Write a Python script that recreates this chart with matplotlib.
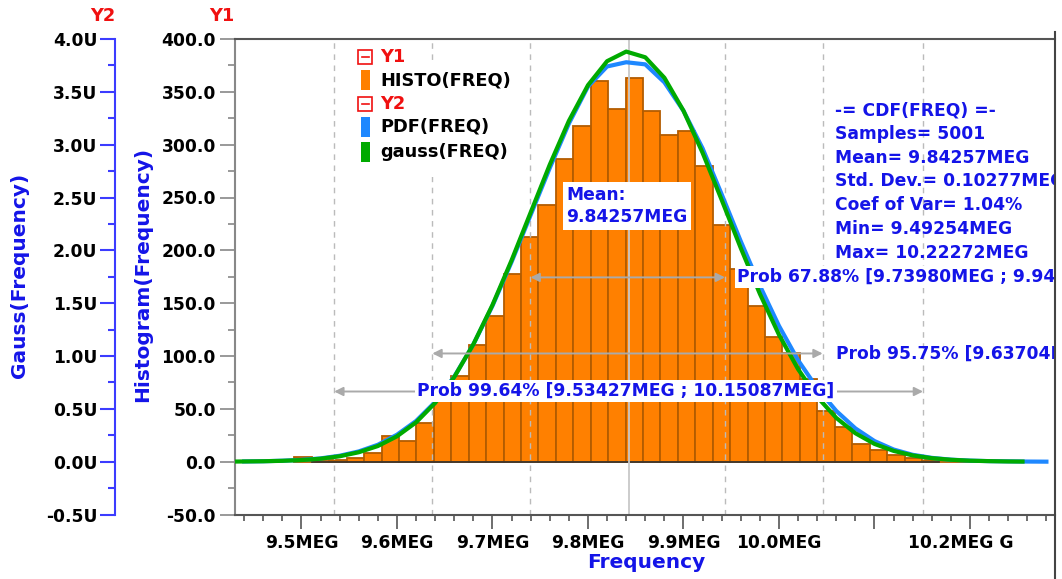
#! /usr/bin/env python3
# ----------------------------------------------------------------------------------------
# Monte Carlo frequency histogram with PDF and gauss overlay (Y1 counts, Y2 density).
# ----------------------------------------------------------------------------------------

import matplotlib
matplotlib.use("Agg")
import matplotlib.pyplot as plt
from matplotlib.patches import Rectangle
from matplotlib.lines import Line2D
from matplotlib.ticker import FuncFormatter, MultipleLocator
from matplotlib.transforms import Affine2D
import numpy as np

# ---- data -------------------------------------------------------------------------------

hist_min = 9.49254
hist_max = 10.22272
hist_counts = [
    4, 1, 2, 3, 8, 24, 20, 37, 62, 81, 110, 138, 178, 213, 243, 286, 318, 360, 334, 363,
    332, 309, 313, 280, 224, 182, 147, 118, 103, 78, 48, 33, 17, 11, 6, 3, 2, 0, 0, 1,
]

gauss_freq = [
    9.43, 9.44, 9.46, 9.48, 9.50, 9.52, 9.54, 9.56, 9.58, 9.60, 9.62, 9.64, 9.66, 9.68,
    9.70, 9.72, 9.74, 9.76, 9.78, 9.80, 9.82, 9.84, 9.86, 9.88, 9.90, 9.92, 9.94, 9.96,
    9.98, 10.00, 10.02, 10.04, 10.06, 10.08, 10.10, 10.12, 10.14, 10.16, 10.18, 10.20,
    10.22, 10.24, 10.255,
]
gauss_u = [
    0.001, 0.002, 0.004, 0.008, 0.015, 0.028, 0.051, 0.089, 0.148, 0.240, 0.372, 0.556,
    0.801, 1.111, 1.483, 1.906, 2.359, 2.811, 3.225, 3.563, 3.790, 3.881, 3.827, 3.633,
    3.321, 2.923, 2.477, 2.021, 1.588, 1.201, 0.875, 0.613, 0.414, 0.269, 0.168, 0.102,
    0.059, 0.033, 0.018, 0.009, 0.005, 0.002, 0.001,
]

pdf_freq = [
    9.44, 9.46, 9.48, 9.50, 9.52, 9.54, 9.56, 9.58, 9.60, 9.62, 9.64, 9.66, 9.68, 9.70,
    9.72, 9.74, 9.76, 9.78, 9.80, 9.82, 9.84, 9.86, 9.88, 9.90, 9.92, 9.94, 9.96, 9.98,
    10.00, 10.02, 10.04, 10.06, 10.08, 10.10, 10.12, 10.14, 10.16, 10.18, 10.20, 10.22,
    10.24, 10.26, 10.28,
]
pdf_u = [
    0.002, 0.004, 0.009, 0.017, 0.031, 0.056, 0.097, 0.160, 0.255, 0.385, 0.565, 0.805,
    1.110, 1.475, 1.890, 2.335, 2.780, 3.200, 3.550, 3.740, 3.780, 3.760, 3.590, 3.320,
    2.965, 2.530, 2.085, 1.665, 1.285, 0.960, 0.695, 0.480, 0.315, 0.195, 0.115, 0.065,
    0.036, 0.019, 0.010, 0.005, 0.003, 0.001, 0.000,
]

mean_freq = 9.84257
prob_names = ["67.88%", "95.75%", "99.64%"]
prob_lo = [9.73980, 9.63704, 9.53427]
prob_hi = [9.94346, 10.04572, 10.15087]

stats_lines = [
    "-= CDF(FREQ) =-",
    "Samples= 5001",
    "Mean= 9.84257MEG",
    "Std. Dev.= 0.10277MEG",
    "Coef of Var= 1.04%",
    "Min= 9.49254MEG",
    "Max= 10.22272MEG",
]

x_ticks = [9.5, 9.6, 9.7, 9.8, 9.9, 10.0, 10.1, 10.2]
x_tick_labels = ["9.5MEG", "9.6MEG", "9.7MEG", "9.8MEG", "9.9MEG", "10.0MEG", "", ""]
x_last_label = "10.2MEG G"

# ---- styling ----------------------------------------------------------------------------

W, H = 1062, 579
orange = "#FF8000"
orange_edge = "#B35C00"
pdf_blue = "#1E88FF"
gauss_green = "#00AA00"
text_blue = "#1414E8"
red = "#F01010"
fs = 12.3

plt.rcParams['font.family'] = ['DejaVu Sans']
plt.rcParams['font.weight'] = 'bold'

fig = plt.figure(figsize=(W / 100, H / 100), dpi=100)
px = Affine2D().scale(1 / W, -1 / H).translate(0, 1) + fig.transFigure

ax = fig.add_axes([235 / W, 1 - 514.5 / H, (1055 - 235) / W, (514.5 - 39) / H])
ax.set_xlim(9.4304, 10.289)
ax.set_ylim(-50, 400)

# histogram
edges = np.linspace(hist_min, hist_max, len(hist_counts) + 1)
ax.bar(edges[:-1], hist_counts, width=np.diff(edges), align='edge', color=orange,
       edgecolor=orange_edge, linewidth=1.3, zorder=1)
ax.plot([edges[1], edges[37]], [0, 0], color="#333333", lw=1.2, zorder=1.5)

# probability bounds and mean
for lo, hi in zip(prob_lo, prob_hi):
    for v in (lo, hi):
        ax.axvline(v, color="#BBBBBB", lw=1.0, ls=(0, (4, 4)), zorder=2)
ax.axvline(mean_freq, color="#C8C8C8", lw=1.3, zorder=2)

# Y1 axis
ax.yaxis.set_major_locator(MultipleLocator(50))
ax.yaxis.set_minor_locator(MultipleLocator(25))
ax.yaxis.set_major_formatter(FuncFormatter(lambda v, p: f"{v:.1f}"))
ax.tick_params(axis='y', which='major', length=10.8, width=1.2, color="#888888",
               labelsize=fs, pad=3)
ax.tick_params(axis='y', which='minor', length=5, width=1.2, color="#888888")

# X axis
ax.set_xticks(x_ticks)
ax.set_xticklabels(x_tick_labels)
ax.xaxis.set_minor_locator(MultipleLocator(0.02))
ax.tick_params(axis='x', which='major', length=10, width=1.2, color="#555555",
               labelsize=fs, pad=4)
ax.tick_params(axis='x', which='minor', length=4.3, width=1.2, color="#555555")

ax.spines['left'].set_color("#888888")
ax.spines['bottom'].set_color("#555555")
ax.spines['top'].set_color("#555555")
for s in ('left', 'bottom', 'top'):
    ax.spines[s].set_linewidth(1.5)
ax.spines['right'].set_visible(False)

# Y2 axis with curves
ax2 = ax.twinx()
ax2.set_ylim(-0.5, 4.0)
ax2.plot(pdf_freq, pdf_u, color=pdf_blue, lw=3.0, zorder=3)
ax2.plot(gauss_freq, gauss_u, color=gauss_green, lw=3.0, zorder=4)
ax2.yaxis.tick_left()
for s in ('right', 'top', 'bottom'):
    ax2.spines[s].set_visible(False)
ax2.spines['left'].set_visible(True)
ax2.spines['left'].set_position(('outward', 86.4))
ax2.spines['left'].set_color("#3C3CFF")
ax2.spines['left'].set_linewidth(1.5)
ax2.yaxis.set_major_locator(MultipleLocator(0.5))
ax2.yaxis.set_minor_locator(MultipleLocator(0.25))
ax2.yaxis.set_major_formatter(FuncFormatter(lambda v, p: f"{v:.1f}U"))
ax2.tick_params(axis='y', which='major', length=10.8, width=1.5, color="#3C3CFF",
                labelsize=fs, pad=2)
ax2.tick_params(axis='y', which='minor', length=5, width=1.5, color="#3C3CFF")

# probability arrows and labels
arrow_y = [174.4, 102.4, 66.4]
for lo, hi, yv in zip(prob_lo, prob_hi, arrow_y):
    ax2.annotate('', xy=(hi, yv), xytext=(lo, yv), xycoords=ax.transData,
                 textcoords=ax.transData,
                 arrowprops=dict(arrowstyle='<|-|>', color="#AAAAAA", lw=1.4,
                                 mutation_scale=13, shrinkA=0, shrinkB=0), zorder=5)

box = dict(boxstyle='square,pad=0.12', fc='white', ec='none')
labels = [f"Prob {n} [{lo:.5f}MEG ; {hi:.5f}MEG]" for n, lo, hi in zip(prob_names, prob_lo, prob_hi)]
ax2.text(737, 277, labels[0], transform=px, color=text_blue, fontsize=fs, va='center',
         ha='left', bbox=box, clip_on=True, zorder=6)
ax2.text(836, 354, labels[1], transform=px, color=text_blue, fontsize=fs, va='center',
         ha='left', clip_on=True, zorder=6)
ax2.text(626, 391, labels[2], transform=px, color=text_blue, fontsize=fs, va='center',
         ha='center', bbox=box, clip_on=True, zorder=6)

ax2.text(566, 206, f"Mean:\n{mean_freq:.5f}MEG", transform=px, color=text_blue,
         fontsize=fs, va='center', ha='left', linespacing=1.35,
         bbox=dict(boxstyle='square,pad=0.2', fc='white', ec='none'), zorder=6)

for i, line in enumerate(stats_lines):
    ax2.text(835, 110 + i * 23.8, line, transform=px, color=text_blue, fontsize=fs,
             va='center', ha='left', clip_on=True, zorder=6)

# legend
ax2.add_patch(Rectangle((352, 63), 163, 114, transform=px, fc='white', ec='none',
                        zorder=5, clip_on=False))
legend_rows = [
    ("Y1", None, 57), ("HISTO(FREQ)", orange, 80), ("Y2", None, 104),
    ("PDF(FREQ)", pdf_blue, 127), ("gauss(FREQ)", gauss_green, 152),
]
for name, col, yc in legend_rows:
    if col is None:
        ax2.add_patch(Rectangle((358, yc - 7), 14, 14, transform=px, fc='white', ec=red,
                                lw=1.2, zorder=6, clip_on=False))
        ax2.add_line(Line2D([361.5, 368.5], [yc, yc], transform=px, color=red, lw=1.2,
                            zorder=7, clip_on=False))
        ax2.text(380, yc, name, transform=px, color=red, fontsize=fs + 0.5,
                 va='center', ha='left', zorder=7)
    else:
        ax2.add_patch(Rectangle((361, yc - 10), 9, 20, transform=px, fc=col, ec='none',
                                zorder=6, clip_on=False))
        ax2.text(380, yc, name, transform=px, color='black', fontsize=fs + 0.5,
                 va='center', ha='left', zorder=7)

# axis titles and frame pieces
fig.text(103 / W, 1 - 16 / H, "Y2", color=red, fontsize=fs + 0.5, ha='center', va='center')
fig.text(222 / W, 1 - 16 / H, "Y1", color=red, fontsize=fs + 0.5, ha='center', va='center')
fig.text(20 / W, 1 - 275 / H, "Gauss(Frequency)", color=text_blue, fontsize=14.5,
         rotation=90, ha='center', va='center')
fig.text(143 / W, 1 - 274 / H, "Histogram(Frequency)", color=text_blue, fontsize=14.5,
         rotation=90, ha='center', va='center')
fig.text(646 / W, 1 - 562 / H, "Frequency", color=text_blue, fontsize=14.5,
         ha='center', va='center')
fig.text(908 / W, 1 - 543 / H, x_last_label, color='black', fontsize=fs,
         ha='left', va='center')
fig.add_artist(Line2D([1055, 1055], [32, 579], transform=px, color="#444444", lw=1.5))

fig.savefig("out.png", dpi=100)
